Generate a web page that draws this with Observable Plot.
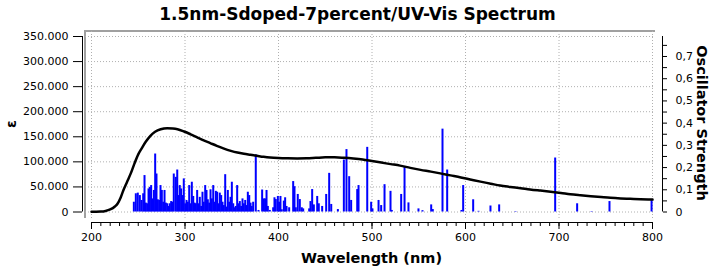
<!DOCTYPE html>
<html><head><meta charset="utf-8">
<script src="https://cdn.jsdelivr.net/npm/d3@7"></script>
<script src="https://cdn.jsdelivr.net/npm/@observablehq/plot@0.6"></script>
<style>
body{margin:0;background:#fff;font-family:"DejaVu Sans",sans-serif;}
#chart{position:relative;width:715px;height:268px;overflow:hidden;background:#fff;}
#chart svg{position:absolute;left:0;top:0;background:transparent !important;}
#frame{position:absolute;left:84px;top:30px;width:571px;height:188px;box-sizing:border-box;border-top:2px solid #a0a0a0;border-left:2px solid #a0a0a0;}
.t{position:absolute;white-space:nowrap;font-weight:bold;color:#000;line-height:1;font-family:"DejaVu Sans",sans-serif;}
</style></head><body>
<div id="chart">
  <div id="frame"></div>
  <div class="t" style="left:357.5px;top:5.6px;font-size:17px;transform:translateX(-50%);">1.5nm-Sdoped-7percent/UV-Vis Spectrum</div>
  <div class="t" style="left:371.5px;top:250.7px;font-size:14.5px;transform:translateX(-50%);">Wavelength (nm)</div>
  <div class="t" style="left:702px;top:122.5px;font-size:14.5px;transform:translate(-50%,-50%) rotate(90deg);">Oscillator Strength</div>
  <div class="t" style="left:10.5px;top:123.5px;font-size:14px;transform:translate(-50%,-50%) rotate(-90deg);">ε</div>
</div>
<script>
// ---- data ----
const curveNm = [200,205,210,215,220,225,228,231,234,238,242,246,250,254,258,263,268,274,281,287,292,299,306,313,320,327,334,341,349,356,363,370,377,384,391,400,410,420,430,440,450,460,470,480,490,500,510,520,530,541,552,563,573,584,595,605,616,627,637,648,659,669,680,691,702,712,723,734,745,755,766,776,787,800];
const curveEps = [600,600,800,2000,5000,11000,17000,28000,43000,60000,77000,97000,115000,128000,140000,152000,160000,165000,167000,166500,165000,160500,155000,149000,143000,137500,132000,127000,122000,118500,116000,114000,112000,110000,108500,107500,107000,106800,107000,108000,109000,109000,108000,106500,104500,101500,98500,95500,92500,88000,84000,80500,77000,73000,69000,65000,60600,56500,52700,50000,47500,45000,42700,40500,38000,35400,33300,31400,29700,28200,27000,26200,25400,24700];

const barNm = [245.3,247.4,249.5,251.7,253.5,255.3,256.7,258.1,259.6,261.0,262.4,263.8,265.2,266.7,268.1,269.5,270.9,272.4,273.8,275.2,276.7,278.1,279.5,281.0,282.4,283.7,285.2,286.6,288.0,290.2,291.7,293.0,294.4,295.9,297.3,298.7,300.2,301.6,303.0,304.5,305.9,307.3,308.8,310.2,311.6,313.0,314.4,315.8,317.3,318.7,320.1,321.6,323.0,324.4,325.9,327.3,328.7,330.2,331.6,333.0,334.4,335.8,337.2,338.7,340.1,341.5,343.0,344.4,345.8,347.3,348.7,350.1,351.6,352.9,354.3,355.8,357.2,358.6,360.1,361.5,362.9,364.4,365.8,367.2,368.7,370.1,371.4,372.9,375.7,378.6,
  382.5,384.3,385.7,387.2,388.6,390.7,394.3,395.7,397.1,399.3,400.7,402.1,403.5,405.7,407.1,408.6,411.4,415.7,417.1,418.5,420.6,422.8,424.9,426.4,432.8,434.2,436.0,437.8,441.4,443.1,446.7,451.0,454.2,456.4,463.5,469.9,472.7,475.6,477.7,484.2,485.6,494.9,499.1,500.5,507.0,509.8,513.4,519.8,521.2,
  531.2,534.8,539.0,549.7,554.0,563.3,565.0,575.4,580.4,595.7,597.5,608.2,613.9,626.7,636.0,653.5,
  695.9,719.4,734.8,754.0,799.0];
const barF = [0.044,0.082,0.085,0.074,0.052,0.082,0.164,0.040,0.037,0.104,0.111,0.119,0.059,0.097,0.261,0.171,0.055,0.052,0.119,0.097,0.044,0.097,0.040,0.037,0.025,0.037,0.047,0.044,0.171,0.156,0.189,0.074,0.119,0.104,0.074,0.149,0.037,0.052,0.044,0.119,0.037,0.134,0.070,0.040,0.037,0.097,0.037,0.066,0.025,0.089,0.044,0.119,0.097,0.055,0.040,0.100,0.059,0.119,0.044,0.093,0.089,0.037,0.085,0.074,0.044,0.029,0.168,0.022,0.097,0.044,0.066,0.134,0.037,0.019,0.025,0.119,0.037,0.047,0.025,0.059,0.037,0.052,0.029,0.089,0.074,0.040,0.025,0.044,0.257,0.007,
  0.099,0.059,0.059,0.097,0.025,0.007,0.019,0.064,0.056,0.070,0.044,0.070,0.010,0.049,0.064,0.025,0.019,0.137,0.114,0.019,0.079,0.056,0.019,0.014,0.014,0.047,0.101,0.032,0.070,0.037,0.025,0.079,0.174,0.034,0.011,0.234,0.281,0.159,0.052,0.101,0.119,0.291,0.044,0.014,0.052,0.029,0.123,0.093,0.007,
  0.079,0.201,0.041,0.014,0.006,0.032,0.011,0.373,0.189,0.007,0.119,0.055,0.003,0.027,0.032,0.002,
  0.243,0.037,0.002,0.047,0.051];

const xDomain = [200, 800];
const xMajor = [200,300,400,500,600,700,800];
const xMinor = d3.range(200, 801, 10);
const epsDomain = [0, 350000];
const epsTicks = [0,50000,100000,150000,200000,250000,300000,350000];
const fDomain = [0, 0.79];
const fTicks = [0,0.05,0.1,0.15,0.2,0.25,0.3,0.35,0.4,0.45,0.5,0.55,0.6,0.65,0.7,0.75];

const curve = curveNm.map((x, i) => ({x, y: curveEps[i]}));
const bars = barNm.map((x, i) => ({x, f: barF[i]}));

const base = {
  width: 715, height: 268,
  marginLeft: 82, marginRight: 53, marginTop: 36, marginBottom: 46,
  style: {background: "transparent", fontFamily: "DejaVu Sans", fontSize: "11px", color: "#000", overflow: "visible"}
};
const xScale = {domain: xDomain, insetLeft: 9, insetRight: 10, label: null};
const epsFmt = d => d3.format(",")(d).replace(/,/g, ".");
const fFmt = d => {
  const k = Math.round(d * 100);
  if (k % 10 !== 0) return "";
  return k === 0 ? "0" : (k / 100).toFixed(1).replace(".", ",");
};
const grid = {stroke: "#b0b0b0", strokeDasharray: "1,2", strokeWidth: 1};

// layer 1: grid + left axis + x axis
const p1 = Plot.plot({
  ...base,
  x: xScale,
  y: {domain: epsDomain, insetBottom: 10.5, label: null},
  marks: [
    Plot.ruleY(epsTicks, {y: d => d, ...grid, insetLeft: 3, insetRight: 9}),
    Plot.ruleX(xMajor, {x: d => d, ...grid, insetTop: -5, insetBottom: 4}),
    Plot.ruleX([xDomain[0]], {x: d => d, y1: epsDomain[0], y2: epsDomain[1], dx: -9, stroke: "#000"}),
    Plot.ruleY([epsDomain[0]], {y: d => d, x1: xDomain[0], x2: xDomain[1], dy: 10.5, stroke: "#000"}),
    Plot.axisY({ticks: epsTicks, anchor: "left", tickSize: 9, tickPadding: 5, tickFormat: epsFmt, label: null}),
    Plot.axisX({ticks: xMinor, anchor: "bottom", tickSize: 4, tickFormat: () => "", label: null}),
    Plot.axisX({ticks: xMajor, anchor: "bottom", tickSize: 7, tickPadding: 4, label: null})
  ]
});

// layer 2: oscillator strength bars + right axis
const p2 = Plot.plot({
  ...base,
  x: {...xScale, axis: null},
  y: {domain: fDomain, insetBottom: 10.5, label: null},
  marks: [
    Plot.ruleX(bars, {x: "x", y1: 0, y2: "f", stroke: "#0000ff", strokeWidth: 2}),
    Plot.ruleX([xDomain[1]], {x: d => d, y1: fDomain[0], y2: fDomain[1], dx: 10, stroke: "#000"}),
    Plot.axisY({ticks: fTicks, anchor: "right", tickSize: 4, tickPadding: 9, tickFormat: fFmt, label: null})
  ]
});

// layer 3: epsilon spectrum curve
const p3 = Plot.plot({
  ...base,
  x: {...xScale, axis: null},
  y: {domain: epsDomain, insetBottom: 10.5, label: null, axis: null},
  marks: [
    Plot.line(curve, {x: "x", y: "y", stroke: "#000", strokeWidth: 2.5, curve: "monotone-x"})
  ]
});

const chart = document.getElementById("chart");
[p1, p2, p3].forEach(p => chart.appendChild(p));
</script>
</body></html>
